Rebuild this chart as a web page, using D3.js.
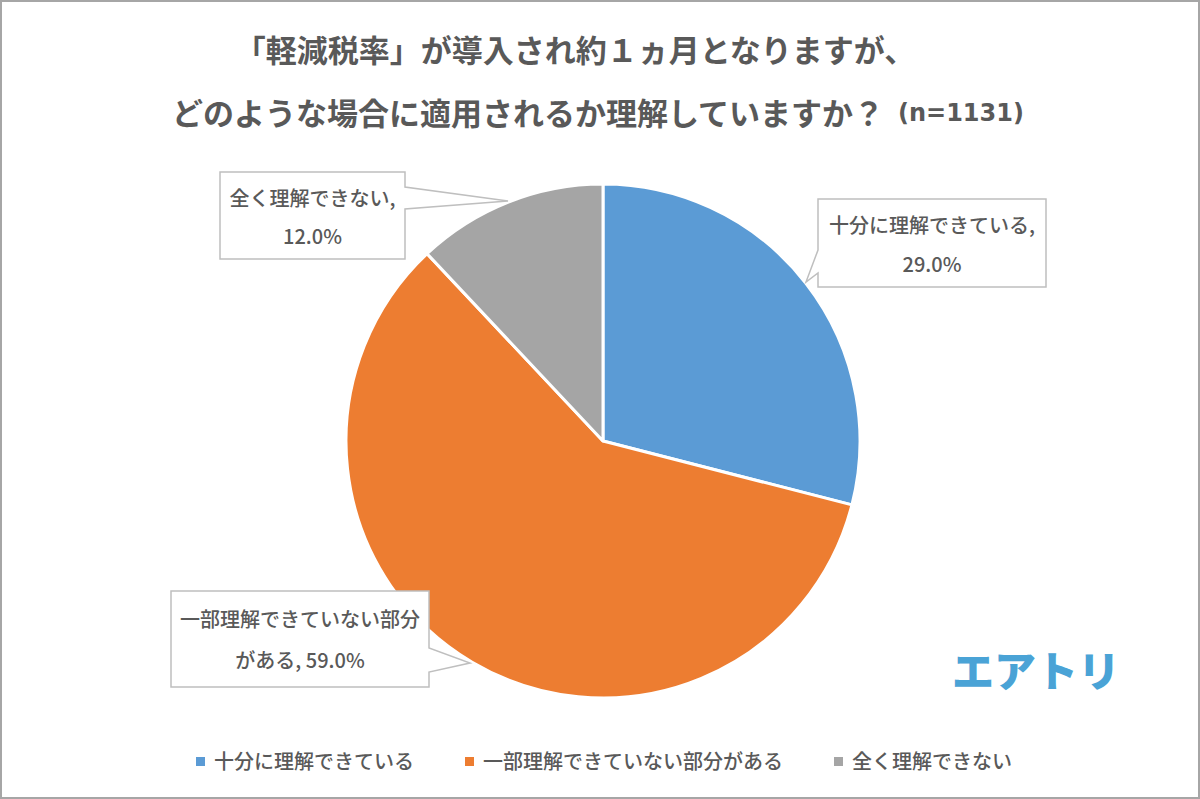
<!DOCTYPE html>
<html lang="ja">
<head>
<meta charset="utf-8">
<script src="https://cdn.jsdelivr.net/npm/d3@7/dist/d3.min.js"></script>
<style>
html,body{margin:0;padding:0;background:#fff;overflow:hidden}
svg{display:block}
text{font-family:"Noto Sans CJK JP","Noto Sans",sans-serif;fill:#595959}
</style>
</head>
<body>
<svg id="chart" width="1200" height="799"></svg>
<script>
// Data
const categories = ["十分に理解できている", "一部理解できていない部分がある", "全く理解できない"];
const values = [29.0, 59.0, 12.0];
const colors = ["#5B9BD5", "#ED7D31", "#A5A5A5"];
const labelFirstLines = ["十分に理解できている,", "一部理解できていない部分", "全く理解できない,"];
const labelSecondLines = ["29.0%", "がある, 59.0%", "12.0%"];
const titleLines = ["「軽減税率」が導入され約１ヵ月となりますが、", "どのような場合に適用されるか理解していますか？"];
const titleNote = "(n=1131)";
const brand = "エアトリ";

// Layout
const W = 1200, H = 799;
const cx = 603, cy = 441, radius = 257;
const callouts = [
  {x:818, y:199, w:228, h:88, side:"left",  a:250, b:273, tip:[806,282], t1:224, t2:263},
  {x:171, y:591, w:258, h:96, side:"right", a:648, b:672, tip:[470,663], t1:618, t2:659},
  {x:220, y:172, w:185, h:87, side:"right", a:187, b:209, tip:[508,201], t1:197, t2:235}
];
const legendX = [{m:196,t:214},{m:465,t:483},{m:834,t:852}];

const svg = d3.select("#chart");
svg.append("rect").attr("width",W).attr("height",H).attr("fill","#fff");
svg.append("rect").attr("x",1).attr("y",1).attr("width",W-2).attr("height",H-2)
  .attr("fill","none").attr("stroke","#a6a6a6").attr("stroke-width",2);

// Title
svg.append("text").attr("x",575).attr("y",48).attr("text-anchor","middle").attr("dominant-baseline","central")
  .attr("font-size",31).attr("font-weight",700).text(titleLines[0]);
svg.append("text").attr("x",528).attr("y",111).attr("text-anchor","middle").attr("dominant-baseline","central")
  .attr("font-size",31).attr("font-weight",700).text(titleLines[1]);
svg.append("text").attr("x",898).attr("y",113).attr("dominant-baseline","central")
  .attr("font-size",24).attr("font-weight",700).attr("font-family","'DejaVu Sans',sans-serif").style("font-family","'DejaVu Sans',sans-serif").text(titleNote);

// Pie
const pie = d3.pie().sort(null).value(d=>d)(values);
const arc = d3.arc().innerRadius(0).outerRadius(radius);
svg.append("g").attr("transform",`translate(${cx},${cy})`)
  .selectAll("path").data(pie).join("path")
  .attr("d",arc).attr("fill",(d,i)=>colors[i])
  .attr("stroke","#fff").attr("stroke-width",3).attr("stroke-linejoin","round");

// Callouts
const line = d3.line();
callouts.forEach((c,i)=>{
  const r=c.x+c.w, bt=c.y+c.h;
  const pts = c.side==="left"
    ? [[c.x,c.y],[r,c.y],[r,bt],[c.x,bt],[c.x,c.b],c.tip,[c.x,c.a]]
    : [[c.x,c.y],[r,c.y],[r,c.a],c.tip,[r,c.b],[r,bt],[c.x,bt]];
  svg.append("path").attr("d",line(pts)+"Z").attr("fill","#fff")
    .attr("stroke","#bfbfbf").attr("stroke-width",1.5);
  const mx=c.x+c.w/2;
  [[labelFirstLines[i],c.t1],[labelSecondLines[i],c.t2]].forEach(([s,y])=>{
    svg.append("text").attr("x",mx).attr("y",y).attr("text-anchor","middle")
      .attr("dominant-baseline","central").attr("font-size",20).attr("font-weight",500).text(s);
  });
});

// Brand
svg.append("text").attr("x",1036).attr("y",668).attr("text-anchor","middle").attr("dominant-baseline","central")
  .attr("font-size",42).attr("font-weight",900).style("fill","#4aa3d6").text(brand);

// Legend
categories.forEach((c,i)=>{
  svg.append("rect").attr("x",legendX[i].m).attr("y",757).attr("width",9).attr("height",9).attr("fill",colors[i]);
  svg.append("text").attr("x",legendX[i].t).attr("y",760).attr("dominant-baseline","central")
    .attr("font-size",20).attr("font-weight",500).text(c);
});
</script>
</body>
</html>
